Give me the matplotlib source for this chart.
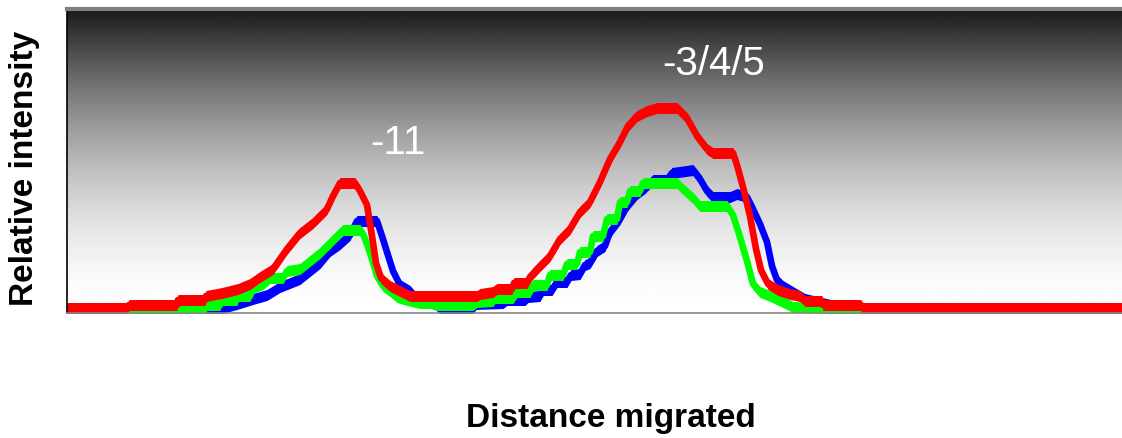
import numpy as np
import matplotlib
matplotlib.use("Agg")
import matplotlib.pyplot as plt

# Densitometry traces: (distance, intensity) read along each lane
red_x = [0, 61, 62, 110, 111, 138, 139, 155, 171, 183, 193, 206, 220, 233, 246, 260, 266, 273,
         288, 293, 300, 305, 309, 314, 323, 333, 343, 410, 413, 426, 430, 445, 447, 460, 463, 473,
         483, 493, 503, 513, 523, 533, 543, 553, 561, 570, 580, 590, 610, 620, 630, 640, 646, 666,
         670, 676, 683, 689, 694, 701, 711, 723, 733, 738, 755, 756, 794, 795, 1055]
red_y = [5, 5, 8, 8, 13, 13, 17, 20, 24, 29, 36, 44, 64, 80, 90, 104, 117, 130,
         130, 122, 108, 77, 50, 35, 27, 22, 17, 17, 19, 21, 24, 24, 30, 30, 36, 47,
         57, 74, 84, 101, 111, 131, 154, 171, 187, 197, 202, 205, 205, 195, 177, 164, 160, 160,
         148, 126, 97, 64, 43, 29, 23, 19, 17, 12, 12, 8, 8, 5, 5]

blue_x = [63, 148, 170, 186, 200, 213, 233, 243, 253, 263, 273, 283, 290, 310, 315, 320, 326,
          333, 343, 350, 368, 373, 406, 409, 436, 440, 458, 461, 473, 476, 485, 490, 500, 504,
          513, 518, 523, 530, 538, 543, 553, 560, 570, 578, 586, 600, 605, 626, 633, 640, 646,
          663, 670, 680, 686, 693, 700, 705, 710, 716, 726, 738, 755, 773, 793]
blue_y = [3, 3, 9, 14, 18, 26, 34, 42, 50, 62, 69, 78, 92, 92, 77, 61, 42,
          28, 22, 14, 9, 5, 5, 9, 10, 13, 13, 16, 17, 23, 23, 31, 31, 38,
          39, 48, 50, 62, 67, 81, 94, 107, 119, 125, 133, 133, 140, 143, 134, 122, 116,
          116, 119, 116, 104, 89, 71, 47, 33, 27, 21, 14, 10, 6, 3]

green_x = [63, 113, 115, 138, 140, 153, 155, 170, 171, 183, 186, 196, 203, 216, 220, 233, 243,
           253, 263, 270, 276, 293, 296, 300, 305, 310, 316, 323, 330, 340, 353, 366, 370, 406,
           410, 426, 428, 446, 450, 463, 466, 480, 483, 496, 500, 510, 513, 523, 526, 536, 540,
           550, 553, 560, 563, 573, 576, 610, 616, 626, 633, 660, 666, 673, 680, 686, 693, 703,
           716, 726, 793]
green_y = [3, 3, 5, 5, 8, 8, 13, 13, 17, 17, 25, 29, 35, 35, 42, 44, 52,
           60, 70, 77, 83, 83, 79, 69, 54, 37, 27, 22, 16, 13, 10, 10, 8, 8,
           11, 12, 15, 15, 21, 21, 28, 28, 38, 38, 49, 49, 61, 61, 77, 77, 94,
           94, 111, 111, 122, 122, 130, 130, 124, 115, 107, 107, 98, 76, 52, 29, 21, 17,
           11, 6, 4]

band_labels = ["-11", "-3/4/5"]
band_label_x = [331, 647]
band_label_y = [171, 250]

W, H, DPI = 1122, 439, 100
fig = plt.figure(figsize=(W / DPI, H / DPI), dpi=DPI)
ax = fig.add_axes([67 / W, 1 - 314 / H, 1 - 67 / W, 304 / H])
ax.set_xlim(0, 1055)
ax.set_ylim(0, 304)

# white-at-bottom, near-black-at-top background
t = np.linspace(0, 1, 400)[:, None]
shade = 1 - 0.9 * t ** 1.7
ax.imshow(shade, cmap="gray", vmin=0, vmax=1, aspect="auto",
          extent=(0, 1055, 0, 304), origin="lower", zorder=0, interpolation="bicubic")

half = 5.5  # half thickness of each trace
for xs, ys, col in [(blue_x, blue_y, "#0000ff"),
                    (green_x, green_y, "#00ff00"),
                    (red_x, red_y, "#ff0000")]:
    xs = np.asarray(xs, float)
    ys = np.asarray(ys, float)
    ax.fill_between(xs, ys - half, ys + half, color=col, lw=0, zorder=2)
    ax.plot(xs, ys, color=col, lw=4.8, solid_joinstyle="round", zorder=2)

for lab, lx, ly in zip(band_labels, band_label_x, band_label_y):
    ax.text(lx, ly, lab, color="white", fontsize=29, ha="center", va="center",
            family="Liberation Sans", zorder=3)

ax.set_xticks([])
ax.set_yticks([])
ax.spines["top"].set_color("#808080")
ax.spines["top"].set_linewidth(3)
ax.spines["right"].set_visible(False)
ax.spines["bottom"].set_color("#888888")
ax.spines["bottom"].set_linewidth(1.2)
ax.spines["left"].set_color("black")
ax.spines["left"].set_linewidth(1.2)

fig.text(24.5 / W, 1 - 168.5 / H, "Relative intensity", rotation=90, ha="center", va="center",
         fontsize=24, fontweight="bold", family="Liberation Sans")
fig.text(611 / W, 1 - 427 / H, "Distance migrated", ha="center", va="baseline",
         fontsize=24, fontweight="bold", family="Liberation Sans")

fig.savefig("out.png", dpi=DPI)
